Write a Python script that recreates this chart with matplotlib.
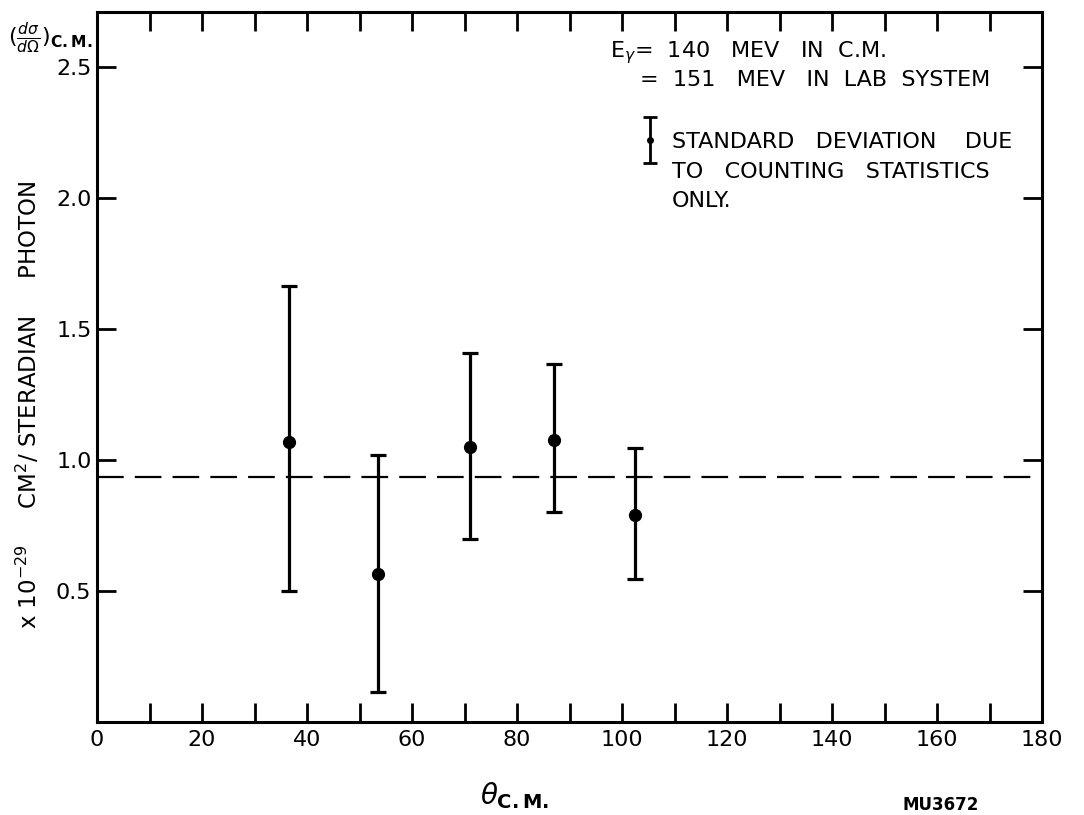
import matplotlib
matplotlib.use("Agg")
import matplotlib.pyplot as plt
import numpy as np

# angle (deg, c.m.), cross section and asymmetric error bar ends
theta = [36.5, 53.5, 71.0, 87.0, 102.5]
sigma = [1.07, 0.565, 1.05, 1.075, 0.79]
err_hi = [1.665, 1.02, 1.41, 1.365, 1.045]
err_lo = [0.50, 0.115, 0.70, 0.80, 0.545]
mean_level = 0.935

x_ticks = list(range(0, 181, 10))
x_labels = [str(t) if t % 20 == 0 else "" for t in x_ticks]
y_ticks = [0.5, 1.0, 1.5, 2.0, 2.5]
y_labels = ["0.5", "1.0", "1.5", "2.0", "2.5"]

W, H = 1084, 815
plt.rcParams["font.family"] = ["DejaVu Sans"]
plt.rcParams["mathtext.fontset"] = "dejavusans"

fig = plt.figure(figsize=(W / 100, H / 100), dpi=100)
ax = fig.add_axes([97 / W, 1 - 722 / H, (1042 - 97) / W, (722 - 12) / H])

s = np.array(sigma)
yerr = [s - np.array(err_lo), np.array(err_hi) - s]
ax.errorbar(theta, sigma, yerr=yerr, fmt="o", color="black", ms=8.5,
            elinewidth=2.3, capsize=5.5, capthick=2.3, zorder=3)
ax.axhline(mean_level, color="black", lw=1.6, dashes=(12, 5), zorder=2)

ax.set_xlim(0, 180)
ax.set_ylim(0, 2.71)
ax.set_xticks(x_ticks)
ax.set_xticklabels(x_labels)
ax.set_yticks(y_ticks)
ax.set_yticklabels(y_labels)
ax.tick_params(direction="in", length=14, width=2, top=True, right=True,
               labelsize=16, pad=6)
ax.tick_params(axis="y", pad=4)
for sp in ax.spines.values():
    sp.set_linewidth(2.2)

# legend key for the error bar
ax.errorbar([0.585], [0.82], yerr=[[0.032], [0.032]], fmt="o", ms=4,
            color="black", elinewidth=2, capsize=5, capthick=2,
            transform=ax.transAxes, clip_on=False)

def ft(x, y, s, **kw):
    fig.text(x / W, 1 - y / H, s, va="baseline", ha="left", **kw)

ft(610, 57, r"E$_\gamma$=  140   MEV   IN  C.M.", fontsize=16)
ft(640, 86, r"=  151   MEV   IN  LAB  SYSTEM", fontsize=16)
ft(672, 148, "STANDARD   DEVIATION    DUE", fontsize=16)
ft(672, 178, "TO   COUNTING   STATISTICS", fontsize=16)
ft(672, 207, "ONLY.", fontsize=16)

fig.text(8 / W, 1 - 38 / H,
         r"$(\frac{d\sigma}{d\Omega})_{\mathbf{C.M.}}$",
         fontsize=16, ha="left", va="center")
fig.text(28 / W, 1 - 405 / H,
         r"x $10^{-29}$     CM$^2$/ STERADIAN     PHOTON",
         rotation=90, fontsize=16.5, ha="center", va="center")
fig.text(480 / W, 1 - 796 / H, r"$\theta_{\mathbf{C.M.}}$", fontsize=20,
         ha="left", va="center")
fig.text(903 / W, 1 - 805 / H, "MU3672", fontsize=12, ha="left",
         va="center", fontweight="bold")

fig.savefig("out.png", dpi=100)
